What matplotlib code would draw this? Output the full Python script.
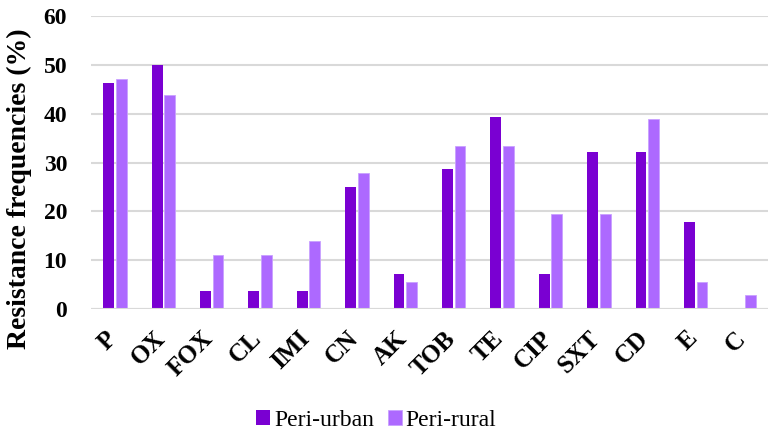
import matplotlib
matplotlib.use('Agg')
import matplotlib.pyplot as plt
import matplotlib.transforms as mtransforms
import numpy as np

antibioticos = ["P", "OX", "FOX", "CL", "IMI", "CN", "AK", "TOB", "TE", "CIP", "SXT", "CD", "E", "C"]
peri_urbano = [46.4, 50.0, 3.6, 3.6, 3.6, 25.0, 7.1, 28.6, 39.3, 7.1, 32.1, 32.1, 17.9, 0.0]
peri_rural = [47.2, 43.8, 11.1, 11.1, 13.9, 27.8, 5.6, 33.3, 33.3, 19.4, 19.4, 38.9, 5.6, 2.8]

plt.rcParams['font.family'] = ['Liberation Serif', 'DejaVu Serif']

fig = plt.figure(figsize=(7.76, 4.37), dpi=100)
ax = fig.add_axes([0.117, 0.293, 0.873, 0.67])

x = np.arange(len(antibioticos))
ancho = 0.225
ax.bar(x - 0.13, peri_urbano, ancho, color='#7a00d2', label='Peri-urban', zorder=3)
ax.bar(x + 0.13, peri_rural, ancho, color='#ad69ff', edgecolor='#c9a0ff', linewidth=0.6,
       label='Peri-rural', zorder=3)

ax.set_xlim(-0.5, len(antibioticos) - 0.5)
ax.set_ylim(0, 60)
ax.set_yticks(range(0, 61, 10))
ax.yaxis.grid(True, color='#d9d9d9', linewidth=1.5, zorder=0)
for s in ax.spines.values():
    s.set_visible(False)
ax.axhline(0, color='#d9d9d9', linewidth=1.5, zorder=4)
ax.tick_params(length=0)
ax.tick_params(axis='y', labelsize=17, pad=17)
ax.set_xticks(x)
ax.set_xticklabels(antibioticos, rotation=45, fontsize=18, fontweight='bold', ha='right', va='top')
ax.tick_params(axis='x', pad=13)
desplazamiento = mtransforms.ScaledTranslation(6 / 100, 0, fig.dpi_scale_trans)
for t in ax.get_xticklabels():
    t.set_transform(t.get_transform() + desplazamiento)
for t in ax.get_yticklabels():
    t.set_fontweight('bold')
ax.set_ylabel("Resistance frequencies (%)", fontsize=20, fontweight='bold')
ax.yaxis.set_label_coords(-0.087, 0.41)

# Leyenda centrada bajo el gráfico
fig.legend(loc='lower center', bbox_to_anchor=(0.485, -0.035), ncol=2, frameon=False, fontsize=17,
           handlelength=0.6, handleheight=0.6, handletextpad=0.15, columnspacing=0.6)

plt.savefig("out.png")
plt.close()
